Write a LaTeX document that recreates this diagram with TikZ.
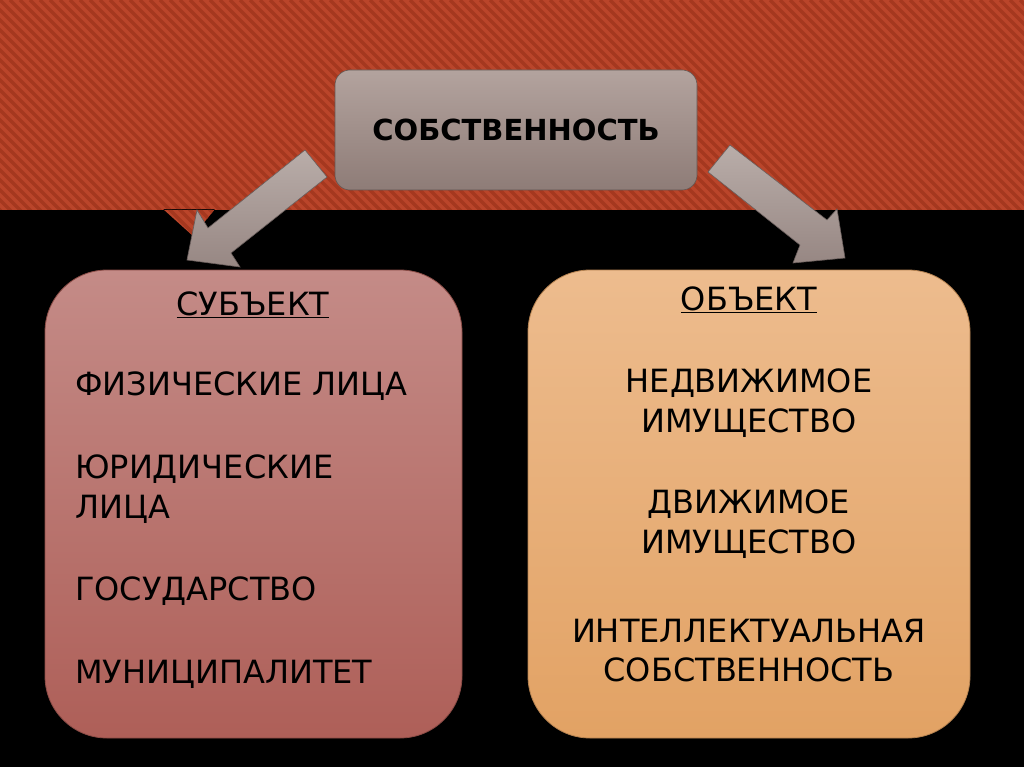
\documentclass[tikz,border=0pt]{standalone}
\usepackage{fontspec}
\setmainfont{DejaVu Sans}
\definecolor{bandbase}{HTML}{BA452A}
\definecolor{bandstripe}{HTML}{A5381F}
\definecolor{topA}{HTML}{B3A39E}
\definecolor{topB}{HTML}{8E7C77}
\definecolor{leftA}{HTML}{C48B87}
\definecolor{leftB}{HTML}{AE5F58}
\definecolor{rightA}{HTML}{EDBC8E}
\definecolor{rightB}{HTML}{E2A264}
\definecolor{arrA}{HTML}{B9ADA9}
\definecolor{arrB}{HTML}{978783}
\tikzset{
  txt/.style={font=\fontsize{32}{36}\selectfont, text=black, inner sep=0pt},
  arrowshape/.style={top color=arrA, bottom color=arrB, draw=arrB!70!black, line width=0.6pt},
}
\begin{document}
\begin{tikzpicture}[x=1pt,y=-1pt]
\useasboundingbox (0,0) rectangle (1024,767);
% background
\fill[black] (0,0) rectangle (1024,767);
\begin{scope}
  \clip (0,0) rectangle (1024,210) (163,209) -- (215,209) -- (193,236) -- cycle;
  \fill[bandbase] (0,0) rectangle (1024,240);
  \foreach \i in {-300,-290,...,1030} {
    \draw[bandstripe, line width=3.5pt] (\i,0) -- ++(260,260);
  }
\end{scope}
% arrows
\draw[arrowshape] (305,150) -- (327,177) -- (231,253) -- (240,267) -- (187,260) -- (197,210) -- (208,228) -- cycle;
\draw[arrowshape] (730,145) -- (708,172) -- (800,245) -- (793,263) -- (845,258) -- (837,209) -- (827,220) -- cycle;
% top box
\node[draw=topB!70!black, line width=0.6pt, rounded corners=15pt, top color=topA, bottom color=topB,
      minimum width=362pt, minimum height=120pt, inner sep=0pt,
      font=\fontsize{29}{34}\selectfont\bfseries] (title) at (516,130) {СОБСТВЕННОСТЬ};
% left box
\node[draw=leftB!80!black, line width=0.8pt, rounded corners=62pt, top color=leftA, bottom color=leftB,
      minimum width=417pt, minimum height=468pt, inner sep=0pt] (subj) at (253.5,504) {};
% right box
\node[draw=rightB!80!black, line width=0.8pt, rounded corners=62pt, top color=rightA, bottom color=rightB,
      minimum width=442pt, minimum height=468pt, inner sep=0pt] (obj) at (749,504) {};
% left texts
\node[txt] (s0) at (253,305) {\underline{СУБЪЕКТ}};
\node[txt, anchor=west] (s1) at (75,386) {ФИЗИЧЕСКИЕ ЛИЦА};
\node[txt, anchor=west] (s2) at (75,469) {ЮРИДИЧЕСКИЕ};
\node[txt, anchor=west] (s3) at (75,509) {ЛИЦА};
\node[txt, anchor=west] (s4) at (75,591) {ГОСУДАРСТВО};
\node[txt, anchor=west] (s5) at (75,674) {МУНИЦИПАЛИТЕТ};
% right texts
\node[txt] (o0) at (749,300) {\underline{ОБЪЕКТ}};
\node[txt] (o1) at (749,383) {НЕДВИЖИМОЕ};
\node[txt] (o2) at (749,423) {ИМУЩЕСТВО};
\node[txt] (o3) at (749,504) {ДВИЖИМОЕ};
\node[txt] (o4) at (749,544) {ИМУЩЕСТВО};
\node[txt] (o5) at (749,631) {ИНТЕЛЛЕКТУАЛЬНАЯ};
\node[txt] (o6) at (749,670) {СОБСТВЕННОСТЬ};
\end{tikzpicture}
\end{document}
